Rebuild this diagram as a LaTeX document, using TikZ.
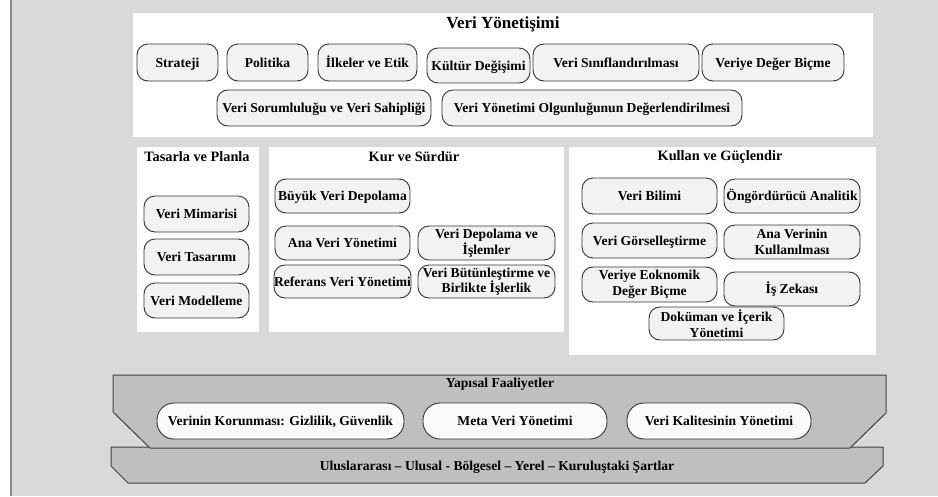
\documentclass[tikz,border=0pt]{standalone}
\usepackage{fontspec}
\setmainfont{Liberation Serif}
\usepackage{tikz}
\usetikzlibrary{positioning}
\definecolor{PageGray}{HTML}{D9D9D9}
\definecolor{FrameGray}{HTML}{8C8C8C}
\definecolor{BoxFill}{HTML}{F2F2F2}
\definecolor{BoxEdge}{HTML}{333333}
\definecolor{BandGray}{HTML}{BFBFBF}
\definecolor{BandEdge}{HTML}{404040}
\newcommand{\kutufont}{\bfseries\fontsize{13.6}{15.5}\selectfont}
\newcommand{\panelfont}{\bfseries\fontsize{14.3}{16}\selectfont}

\tikzset{
  kutu/.style={draw=BoxEdge, fill=BoxFill, rounded corners=11pt, line width=0.9pt,
               inner sep=0.5pt, align=center, font=\kutufont},
  tek/.style={text height=12pt, text depth=3pt},
  hap/.style={kutu, tek, fill=white!60!BoxFill, rounded corners=17pt},
  panel/.style={fill=white},
  panelbaslik/.style={font=\panelfont, inner sep=1pt, text height=12.5pt, text depth=3pt},
  serit/.style={fill=BandGray, draw=BandEdge, line width=1pt}
}

\begin{document}
\begin{tikzpicture}[x=1pt, y=-1pt]
    \useasboundingbox (0,0) rectangle (938,496);

    % Background and frame
    \fill[white] (0,0) rectangle (11,496);
    \fill[PageGray] (11,0) rectangle (938,496);
    \draw[FrameGray, line width=2pt] (11,0) -- (11,496);

    % Panels
    \fill[panel] (133,13) rectangle (873,137);
    \fill[panel] (137,147) rectangle (259,332);
    \fill[panel] (269,147) rectangle (564,332);
    \fill[panel] (569,147) rectangle (876,355);

    % Veri Yonetisimi
    \node[font=\bfseries\fontsize{17}{18}\selectfont, inner sep=1pt, text height=14pt, text depth=3pt] (yonetisim) at (503,23) {Veri Yönetişimi};
    \node[kutu, tek, minimum width=81pt, minimum height=37pt] (strateji) at (177.5,62.5) {Strateji};
    \node[kutu, tek, minimum width=81pt, minimum height=37pt] (politika) at (267.5,62.5) {Politika};
    \node[kutu, tek, minimum width=99pt, minimum height=37pt] (ilkeler) at (367.5,62.5) {İlkeler ve Etik};
    \node[kutu, tek, minimum width=103pt, minimum height=35pt] (kultur) at (478.5,65.5) {Kültür Değişimi};
    \node[kutu, tek, minimum width=166pt, minimum height=37pt] (siniflandirma) at (616,62.5) {Veri Sınıflandırılması};
    \node[kutu, tek, minimum width=142pt, minimum height=37pt] (degerbicme) at (773,62.5) {Veriye Değer Biçme};
    \node[kutu, tek, minimum width=214pt, minimum height=36pt] (sorumluluk) at (324,108) {Veri Sorumluluğu ve Veri Sahipliği};
    \node[kutu, tek, minimum width=300pt, minimum height=36pt] (olgunluk) at (592,108) {Veri Yönetimi Olgunluğunun Değerlendirilmesi};

    % Tasarla ve Planla
    \node[panelbaslik] (tasarla) at (197,156.5) {Tasarla ve Planla};
    \node[kutu, tek, minimum width=105pt, minimum height=36pt] (mimari) at (196.5,214) {Veri Mimarisi};
    \node[kutu, tek, minimum width=105pt, minimum height=36pt] (tasarim) at (196.5,257) {Veri Tasarımı};
    \node[kutu, tek, minimum width=105pt, minimum height=35pt] (modelleme) at (196.5,300.5) {Veri Modelleme};

    % Kur ve Surdur
    \node[panelbaslik] (kur) at (414,156.5) {Kur ve Sürdür};
    \node[kutu, tek, minimum width=135pt, minimum height=34pt] (buyukveri) at (342.5,196) {Büyük Veri Depolama};
    \node[kutu, tek, minimum width=135pt, minimum height=34pt] (anaveri) at (342.5,243) {Ana Veri Yönetimi};
    \node[kutu, tek, minimum width=135pt, minimum height=33pt, inner xsep=0pt] (referans) at (342.5,281.5) {Referans Veri Yönetimi};
    \node[kutu, minimum width=137pt, minimum height=34pt] (depolama) at (486.5,243) {Veri Depolama ve\\İşlemler};
    \node[kutu, minimum width=137pt, minimum height=33pt, inner xsep=0pt] (butunlestirme) at (486.5,281.5) {Veri Bütünleştirme ve\\Birlikte İşlerlik};

    % Kullan ve Guclendir
    \node[panelbaslik] (kullan) at (720,155.5) {Kullan ve Güçlendir};
    \node[kutu, tek, minimum width=135pt, minimum height=36pt] (bilim) at (649.5,196) {Veri Bilimi};
    \node[kutu, tek, minimum width=136pt, minimum height=34pt] (ongoru) at (792,196) {Öngördürücü Analitik};
    \node[kutu, tek, minimum width=135pt, minimum height=35pt] (gorsel) at (649.5,240.5) {Veri Görselleştirme};
    \node[kutu, minimum width=136pt, minimum height=34pt] (anaverin) at (792,242) {Ana Verinin\\Kullanılması};
    \node[kutu, minimum width=135pt, minimum height=35pt] (ekonomik) at (649.5,284.5) {Veriye Eoknomik\\Değer Biçme};
    \node[kutu, tek, minimum width=136pt, minimum height=34pt] (iszekasi) at (792,289) {İş Zekası};
    \node[kutu, minimum width=135pt, minimum height=33pt] (dokuman) at (716.5,323.5) {Doküman ve İçerik\\Yönetimi};

    % Bottom bands
    \filldraw[serit] (111,447) -- (883,447) -- (883,466) -- (865,483) -- (128,483) -- (111,466) -- cycle;
    \filldraw[serit] (113,375) -- (886,375) -- (886,413) -- (850,448) -- (150,448) -- (113,412) -- cycle;
    \node[font=\kutufont, tek, inner sep=1pt] (yapisal) at (500,383) {Yapısal Faaliyetler};
    \node[hap, minimum width=247pt, minimum height=36pt] (koruma) at (280.5,421) {Verinin Korunması: Gizlilik, Güvenlik};
    \node[hap, minimum width=184pt, minimum height=36pt] (metaveri) at (515,421) {Meta Veri Yönetimi};
    \node[hap, minimum width=184pt, minimum height=36pt] (kalite) at (719,421) {Veri Kalitesinin Yönetimi};
    \node[font=\kutufont, tek, inner sep=1pt] (sartlar) at (497,466) {Uluslararası – Ulusal - Bölgesel – Yerel – Kuruluştaki Şartlar};
\end{tikzpicture}
\end{document}
